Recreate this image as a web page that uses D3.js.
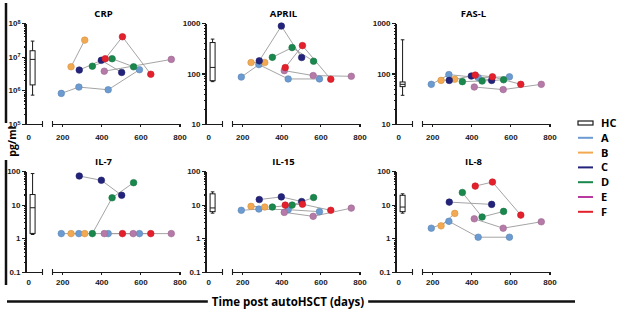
<!DOCTYPE html>
<html><head><meta charset="utf-8">
<script src="https://cdn.jsdelivr.net/npm/d3@7"></script>
<style>
body{margin:0;background:#fff}
svg{font-family:"Open Sans",sans-serif}
.axis path,.axis line{stroke:#1a1a1a;stroke-width:1.1;shape-rendering:crispEdges}
.axis text{font-size:8px;font-weight:700;fill:#1a1a1a}
.title{font-size:9.5px;font-weight:700;text-anchor:middle}
</style></head><body><div id="chart"></div>
<script>
var w=617, h=309;

// patients and their sampling days (post autoHSCT)
var patients=["A","B","C","D","E","F"];
var markerColors=["#6b9bd0","#f2a951","#23237c","#1a874d","#b57aa8","#e3202c"];
var legendColors=["#6b9bd0","#f2a951","#23237c","#1a874d","#b8399f","#e3202c"];
var days=[[195,285,435,595],[245,315],[287,400,504],[354,455,565],[415,563,758],[420,508,653]];

// values per panel, one array per patient (null = not shown)
var crp=[[8.1e5,1.25e6,1.04e6,4.1e6],[5.0e6,3.1e7],[4.0e6,7.8e6,3.4e6],[5.2e6,8.7e6,5.0e6],[3.7e6,null,8.3e6],[8.7e6,3.9e7,3.0e6]];
var april=[[85,150,78,78],[165,165],[178,870,207],[209,326,175],[114,91,88],[131,357,77]];
var fasl=[[61,95,83,86],[73,77],[73,89,73],[69,71,75],[54,48,61],[93,86,61]];
var il7=[[1.38,1.38,1.38,1.38],[1.38,1.38],[71,53,19],[1.38,16,45],[1.38,1.38,1.38],[null,1.38,1.38]];
var il15=[[6.8,7.4,7.1,6.2],[8.9,8.5],[14.2,17,12.4],[8.5,9.7,16.3],[5.9,4.5,7.9],[9.7,10.3,6.8]];
var il8=[[2.0,3.2,1.08,1.08],[2.35,5.5],[11.9,null,10.2],[23,4.3,6.3],[3.8,2.0,3.1],[35.6,47,4.9]];

// healthy controls: [whisker low, q1, median, q3, whisker high]
var hcCRP=[7.2e5,1.45e6,8.3e6,1.5e7,2.9e7];
var hcAPRIL=[69,72,132,410,480];
var hcFASL=[37,55,61,68,465];
var hcIL7=[1.3,1.4,8.1,20,84];
var hcIL15=[5.6,6.2,8,21,24];
var hcIL8=[5.6,6.2,8.5,19,21];

var panelTitles=["CRP","APRIL","FAS-L","IL-7","IL-15","IL-8"];
var panelValues=[crp,april,fasl,il7,il15,il8];
var panelHC=[hcCRP,hcAPRIL,hcFASL,hcIL7,hcIL15,hcIL8];
var ticksCRP=[1e5,1e6,1e7,1e8];
var ticksTop=[10,100,1000];
var ticksBottom=[0.1,1,10,100];
var panelTicks=[ticksCRP,ticksTop,ticksTop,ticksBottom,ticksBottom,ticksBottom];
var xTicks=[200,400,600,800];

var colX=[25.5,205.5,395.5];
var rowY=[[124,23],[272,171]];
var rowLabelPad=[7,4.5];

var svg=d3.select("#chart").append("svg").attr("width",w).attr("height",h);

function minorTicks(dom){
  var out=[];
  for(var d=dom[0];d<dom[1]*0.999;d*=10){
    for(var k=2;k<10;k++) out.push(d*k);
  }
  return out;
}

function drawPanel(i){
  var col=i%3, row=Math.floor(i/3);
  var ax=colX[col], y0=rowY[row][0], y1=rowY[row][1];
  var ticks=panelTicks[i];
  var dom=[ticks[0],ticks[ticks.length-1]];
  var yScale=d3.scaleLog().domain(dom).range([y0,y1]);
  var hcScale=d3.scaleLinear().domain([-10,50]).range([ax,ax+17]);
  var xScale=d3.scaleLinear().domain([150,800]).range([ax+27,ax+154]);
  var g=svg.append("g");

  g.append("text").attr("class","title").attr("x",ax+78).attr("y",y1-6).text(panelTitles[i]);

  // y axis
  var yAx=g.append("g").attr("class","axis").attr("transform","translate("+ax+",0)")
    .call(d3.axisLeft(yScale).tickValues(ticks).tickSize(3.5).tickSizeOuter(0).tickPadding(1.5)
      .tickFormat(function(d){ return i===0 ? "" : d3.format("~g")(d); }));
  if(i===0){
    yAx.selectAll(".tick text").each(function(d){
      var t=d3.select(this).text("10");
      t.append("tspan").attr("dy","-0.45em").attr("font-size","5.5px").text(Math.round(Math.log10(d)));
    });
  }
  var yMin=g.append("g").attr("class","axis").attr("transform","translate("+ax+",0)")
    .call(d3.axisLeft(yScale).tickValues(minorTicks(dom)).tickSize(2).tickFormat(""));
  yMin.select(".domain").remove();

  // x axis, broken: HC segment and time segment
  g.append("g").attr("class","axis").attr("transform","translate(0,"+y0+")")
    .call(d3.axisBottom(hcScale).tickValues([0]).tickSize(0).tickSizeOuter(0).tickPadding(rowLabelPad[row]+3));
  g.append("g").attr("class","axis").attr("transform","translate(0,"+y0+")")
    .call(d3.axisBottom(xScale).tickValues(xTicks).tickSize(3).tickSizeOuter(0).tickPadding(rowLabelPad[row]));
  g.append("line").attr("x1",hcScale(50)).attr("x2",hcScale(50)).attr("y1",y0-3).attr("y2",y0+3)
    .attr("stroke","#1a1a1a").attr("stroke-width",1.1);
  g.append("line").attr("x1",xScale(150)).attr("x2",xScale(150)).attr("y1",y0-3).attr("y2",y0+3)
    .attr("stroke","#1a1a1a").attr("stroke-width",1.1);

  // HC box plot
  var s=panelHC[i], cx=hcScale(15), bw=5;
  g.append("line").attr("x1",cx).attr("x2",cx).attr("y1",yScale(s[0])).attr("y2",yScale(s[4]))
    .attr("stroke","#1a1a1a").attr("stroke-width",1);
  [s[0],s[4]].forEach(function(v){
    g.append("line").attr("x1",cx-1.8).attr("x2",cx+1.8).attr("y1",yScale(v)).attr("y2",yScale(v))
      .attr("stroke","#1a1a1a").attr("stroke-width",1);
  });
  g.append("rect").attr("x",cx-bw/2).attr("width",bw).attr("y",yScale(s[3]))
    .attr("height",Math.max(2,yScale(s[1])-yScale(s[3])))
    .attr("fill","#fff").attr("stroke","#1a1a1a").attr("stroke-width",1);
  g.append("line").attr("x1",cx-bw/2).attr("x2",cx+bw/2).attr("y1",yScale(s[2])).attr("y2",yScale(s[2]))
    .attr("stroke","#1a1a1a").attr("stroke-width",1);

  // patient series
  var series=patients.map(function(p,k){
    var pts=[];
    panelValues[i][k].forEach(function(v,j){ if(v!=null) pts.push({d:days[k][j],v:v}); });
    return pts;
  });
  var line=d3.line().x(function(d){return xScale(d.d);}).y(function(d){return yScale(d.v);});
  series.forEach(function(pts){
    g.append("path").datum(pts).attr("d",line).attr("fill","none")
      .attr("stroke","#9a9a9a").attr("stroke-width",0.9);
  });
  series.forEach(function(pts,k){
    g.selectAll(null).data(pts).enter().append("circle")
      .attr("cx",function(d){return xScale(d.d);})
      .attr("cy",function(d){return yScale(d.v);})
      .attr("r",3.3)
      .attr("fill",markerColors[k])
      .attr("stroke",d3.color(markerColors[k]).darker(0.4))
      .attr("stroke-width",0.6);
  });
}

for(var i=0;i<6;i++) drawPanel(i);

// shared y label with frame line
svg.append("line").attr("x1",6).attr("x2",6).attr("y1",3).attr("y2",123).attr("stroke","#111").attr("stroke-width",2.5);
svg.append("line").attr("x1",6).attr("x2",6).attr("y1",160).attr("y2",285).attr("stroke","#111").attr("stroke-width",2.5);
svg.append("text").attr("transform","translate(15.5,141.5) rotate(-90)")
  .attr("text-anchor","middle").attr("font-size","10.5px").attr("font-weight",700).text("pg/ml");

// shared x label with frame line
var xt=svg.append("text").attr("x",288).attr("y",305.5).attr("text-anchor","middle")
  .attr("font-size","11.5px").attr("font-weight",700).text("Time post autoHSCT (days)");
var tl=xt.node().getComputedTextLength();
svg.append("line").attr("x1",7).attr("x2",288-tl/2-4).attr("y1",301.5).attr("y2",301.5).attr("stroke","#111").attr("stroke-width",2.5);
svg.append("line").attr("x1",288+tl/2+4).attr("x2",575).attr("y1",301.5).attr("y2",301.5).attr("stroke","#111").attr("stroke-width",2.5);

// legend
var lx=578, ly=123, lstep=14.8;
var leg=svg.append("g");
leg.append("rect").attr("x",lx).attr("y",ly-2).attr("width",15).attr("height",4)
  .attr("fill","#fff").attr("stroke","#1a1a1a").attr("stroke-width",1.2);
leg.append("text").attr("x",lx+23).attr("y",ly).attr("dy","0.36em")
  .attr("font-size","11px").attr("font-weight",700).text("HC");
patients.forEach(function(p,k){
  var y=ly+(k+1)*lstep;
  leg.append("line").attr("x1",lx).attr("x2",lx+15).attr("y1",y).attr("y2",y)
    .attr("stroke",legendColors[k]).attr("stroke-width",2);
  leg.append("text").attr("x",lx+23).attr("y",y).attr("dy","0.36em")
    .attr("font-size","11px").attr("font-weight",700).text(p);
});
</script></body></html>
